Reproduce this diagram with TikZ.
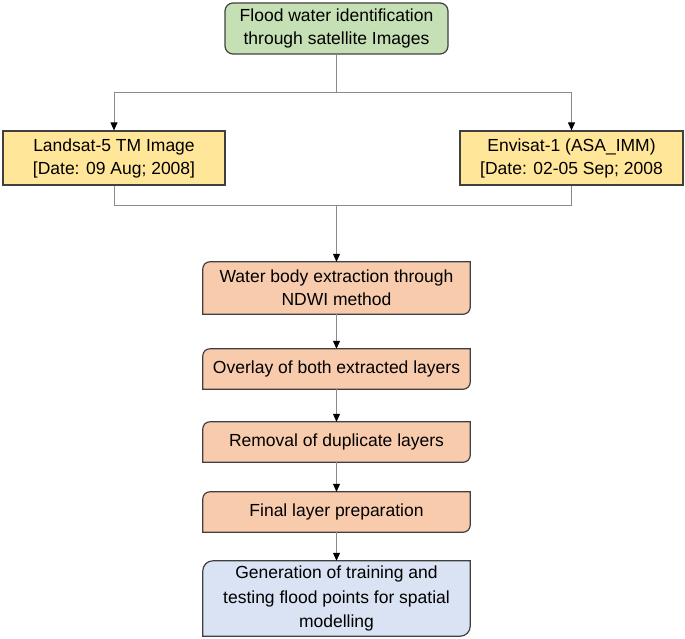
\documentclass[tikz,border=0pt]{standalone}
\usepackage{fontspec}
\setmainfont{Liberation Sans}
\usetikzlibrary{arrows.meta,backgrounds}
\definecolor{bgreen}{HTML}{C5E0B4}
\definecolor{byellow}{HTML}{FFE699}
\definecolor{borange}{HTML}{F8CBAD}
\definecolor{bblue}{HTML}{DAE3F3}
\definecolor{bline}{HTML}{404040}
\definecolor{cline}{HTML}{8A8A8A}
\newcommand\mydiagshape[3]{%
  \draw[boxline,fill=#2] ([yshift=-#3]#1.north west) arc[start angle=180,end angle=90,radius=#3] -- (#1.north east) -- ([yshift=#3]#1.south east) arc[start angle=0,end angle=-90,radius=#3] -- (#1.south west) -- cycle;}
\tikzset{
  x=1pt,y=-1pt,
  boxline/.style={draw=bline,line width=1.2pt},
  txt/.style={align=center,inner sep=0pt,font=\fontsize{17.5pt}{23pt}\selectfont,text=black},
  greenbox/.style={txt,boxline,fill=bgreen,rounded corners=8pt,minimum width=223pt,minimum height=51pt},
  yellowbox/.style={txt,boxline,fill=byellow,minimum width=222pt,minimum height=54pt},
  stepnode/.style={txt,minimum width=267pt},
  conn/.style={draw=cline,line width=1pt},
  arr/.style={conn,-{Triangle[width=7pt,length=8pt,color=black]}}
}
\begin{document}
\begin{tikzpicture}
\useasboundingbox (0,0) rectangle (685,639);
\node[greenbox] (top) at (336.5,28.5) {Flood water identification\\through satellite Images};
\node[yellowbox] (ly) at (114,158) {Landsat-5 TM Image\\{[}Date: 09 Aug; 2008{]}};
\node[yellowbox,minimum width=223pt] (ry) at (571.5,158) {Envisat-1 (ASA\_IMM)\\{[}Date: 02-05 Sep; 2008};
\node[stepnode,minimum height=52pt] (o1) at (336.5,288) {Water body extraction through\\NDWI method};
\node[stepnode,minimum height=40pt] (o2) at (336.5,369) {Overlay of both extracted layers};
\node[stepnode,minimum height=40pt] (o3) at (336.5,442) {Removal of duplicate layers};
\node[stepnode,minimum height=40pt] (o4) at (336.5,512) {Final layer preparation};
\node[stepnode,minimum height=75pt,font=\fontsize{17.5pt}{24.5pt}\selectfont] (bl) at (336.5,598.5) {Generation of training and\\testing flood points for spatial\\modelling};
\begin{scope}[on background layer]
\mydiagshape{o1}{borange}{7pt}
\mydiagshape{o2}{borange}{7pt}
\mydiagshape{o3}{borange}{7pt}
\mydiagshape{o4}{borange}{7pt}
\mydiagshape{bl}{bblue}{10pt}
\end{scope}
\coordinate (j1) at (336.5,93);
\coordinate (j2) at (336.5,206);
\draw[conn] (top.south) -- (j1);
\draw[arr] (j1) -| (ly.north);
\draw[arr] (j1) -| (ry.north);
\draw[conn] (ly.south) |- (j2);
\draw[conn] (ry.south) |- (j2);
\draw[arr] (j2) -- (o1.north);
\draw[arr] (o1) -- (o2);
\draw[arr] (o2) -- (o3);
\draw[arr] (o3) -- (o4);
\draw[arr] (o4) -- (bl);
\end{tikzpicture}
\end{document}
